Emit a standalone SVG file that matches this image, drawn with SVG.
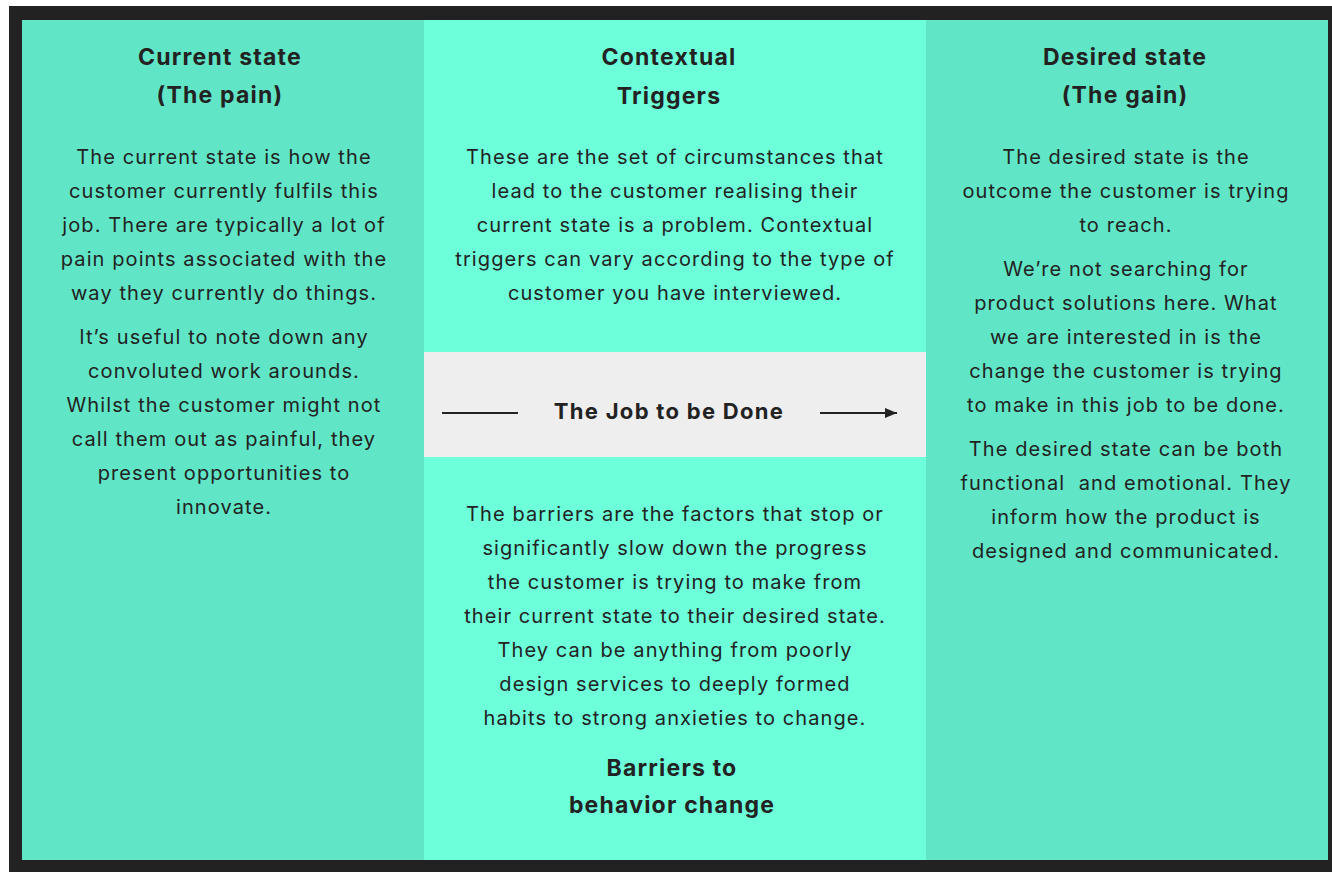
<svg xmlns="http://www.w3.org/2000/svg" width="1332" height="872" viewBox="0 0 1332 872">
  <defs>
    <style>
      .frame { fill: #222222; }
      .side { fill: #60E6C6; }
      .mid { fill: #6CFFDA; }
      .band { fill: #EEEEEE; }
      .head { font-family: Inter, "Noto Sans", "Liberation Sans", sans-serif; font-weight: 700; font-size: 23px; letter-spacing: 1.2px; fill: #222222; text-anchor: middle; }
      .body { font-family: Inter, "Noto Sans", "Liberation Sans", sans-serif; font-weight: 400; font-size: 20px; letter-spacing: 1.1px; fill: #222222; text-anchor: middle; }
      .job { font-family: Inter, "Noto Sans", "Liberation Sans", sans-serif; font-weight: 700; font-size: 22px; letter-spacing: 1.3px; fill: #222222; text-anchor: middle; }
      .conn { stroke: #222222; stroke-width: 2; fill: none; }
    </style>
    <marker id="arrowhead" viewBox="0 0 12 10" refX="12" refY="5" markerWidth="12" markerHeight="10" markerUnits="userSpaceOnUse" orient="auto">
      <path d="M0,0 L12,5 L0,10 Z" fill="#222222"/>
    </marker>
  </defs>

  <!-- outer dark frame -->
  <rect class="frame" x="9" y="6" width="1323" height="866"/>

  <!-- column backgrounds -->
  <rect class="side" x="22" y="20" width="402" height="840"/>
  <rect class="mid" x="424" y="20" width="502" height="840"/>
  <rect class="side" x="926" y="20" width="402" height="840"/>

  <!-- current state column -->
  <g id="current-state">
    <text class="head" x="220" y="65">Current state</text>
    <text class="head" x="220" y="103">(The pain)</text>
    <text class="body" x="224" y="164">The current state is how the</text>
    <text class="body" x="224" y="198">customer currently fulfils this</text>
    <text class="body" x="224" y="232">job. There are typically a lot of</text>
    <text class="body" x="224" y="266">pain points associated with the</text>
    <text class="body" x="224" y="300">way they currently do things.</text>
    <text class="body" x="224" y="344">It’s useful to note down any</text>
    <text class="body" x="224" y="378">convoluted work arounds.</text>
    <text class="body" x="224" y="412">Whilst the customer might not</text>
    <text class="body" x="224" y="446">call them out as painful, they</text>
    <text class="body" x="224" y="480">present opportunities to</text>
    <text class="body" x="224" y="514">innovate.</text>
  </g>

  <!-- contextual triggers -->
  <g id="contextual-triggers">
    <text class="head" x="669" y="65">Contextual</text>
    <text class="head" x="669" y="104">Triggers</text>
    <text class="body" x="675" y="164">These are the set of circumstances that</text>
    <text class="body" x="675" y="198">lead to the customer realising their</text>
    <text class="body" x="675" y="232">current state is a problem. Contextual</text>
    <text class="body" x="675" y="266">triggers can vary according to the type of</text>
    <text class="body" x="675" y="300">customer you have interviewed.</text>
  </g>

  <!-- job to be done band -->
  <g id="job-to-be-done">
    <rect class="band" x="424" y="352" width="502" height="105"/>
    <text class="job" x="669" y="419">The Job to be Done</text>
  </g>

  <!-- barriers to behavior change -->
  <g id="barriers">
    <text class="body" x="675" y="521">The barriers are the factors that stop or</text>
    <text class="body" x="675" y="555">significantly slow down the progress</text>
    <text class="body" x="675" y="589">the customer is trying to make from</text>
    <text class="body" x="675" y="623">their current state to their desired state.</text>
    <text class="body" x="675" y="657">They can be anything from poorly</text>
    <text class="body" x="675" y="691">design services to deeply formed</text>
    <text class="body" x="675" y="725">habits to strong anxieties to change.</text>
    <text class="head" x="672" y="776">Barriers to</text>
    <text class="head" x="672" y="813">behavior change</text>
  </g>

  <!-- desired state column -->
  <g id="desired-state">
    <text class="head" x="1125" y="65">Desired state</text>
    <text class="head" x="1125" y="103">(The gain)</text>
    <text class="body" x="1126" y="164">The desired state is the</text>
    <text class="body" x="1126" y="198">outcome the customer is trying</text>
    <text class="body" x="1126" y="232">to reach.</text>
    <text class="body" x="1126" y="276">We’re not searching for</text>
    <text class="body" x="1126" y="310">product solutions here. What</text>
    <text class="body" x="1126" y="344">we are interested in is the</text>
    <text class="body" x="1126" y="378">change the customer is trying</text>
    <text class="body" x="1126" y="412">to make in this job to be done.</text>
    <text class="body" x="1126" y="456">The desired state can be both</text>
    <text class="body" x="1126" y="490" xml:space="preserve">functional  and emotional. They</text>
    <text class="body" x="1126" y="524">inform how the product is</text>
    <text class="body" x="1126" y="558">designed and communicated.</text>
  </g>

  <!-- connectors across the job band -->
  <g id="connectors">
    <line class="conn" x1="442" y1="413" x2="518" y2="413"/>
    <line class="conn" x1="820" y1="413" x2="897" y2="413" marker-end="url(#arrowhead)"/>
  </g>
</svg>
